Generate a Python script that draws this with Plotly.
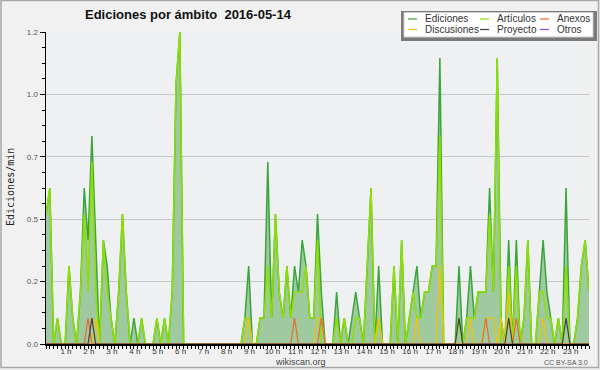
import plotly.graph_objects as go

# 10-minute bins from 00:00 to 23:40 (one row = one hour), values in edits/min
bin_minutes = [10 * i for i in range(143)]

ediciones = [
    0.5, 0.6, 0, 0.1, 0, 0,
    0.3, 0.1, 0, 0.2, 0.6, 0.4,
    0.8, 0.4, 0, 0.4, 0.3, 0.1,
    0, 0.2, 0.5, 0.2, 0, 0.1,
    0, 0.1, 0, 0, 0, 0.1,
    0, 0.1, 0, 0.2, 1.0, 1.2,
    0, 0, 0, 0, 0, 0,
    0, 0, 0, 0, 0, 0,
    0, 0, 0, 0, 0.1, 0.3,
    0, 0, 0.1, 0.1, 0.7, 0.1,
    0.5, 0.2, 0.1, 0.3, 0.1, 0.3,
    0.2, 0.4, 0.3, 0.1, 0.1, 0.5,
    0.2, 0, 0, 0, 0.2, 0,
    0.1, 0, 0.1, 0.2, 0.1, 0,
    0.3, 0.6, 0, 0.3, 0, 0,
    0, 0.3, 0, 0.4, 0, 0.1,
    0.2, 0.3, 0.1, 0.2, 0.2, 0.3,
    0.3, 1.1, 0, 0, 0, 0,
    0.3, 0, 0.1, 0.3, 0.1, 0.2,
    0.2, 0.2, 0.6, 0.2, 1.1, 0.1,
    0, 0.4, 0, 0.4, 0, 0.1,
    0.4, 0, 0, 0.2, 0.4, 0.2,
    0.1, 0, 0.1, 0, 0.6, 0,
    0, 0.1, 0.3, 0.4, 0.2,
]

articulos = [
    0.5, 0.6, 0, 0.1, 0, 0,
    0.3, 0.1, 0, 0.2, 0.5, 0.2,
    0.7, 0.2, 0, 0.4, 0.2, 0.1,
    0, 0.2, 0.5, 0.2, 0, 0,
    0, 0.1, 0, 0, 0, 0.1,
    0, 0.1, 0, 0.2, 1.0, 1.2,
    0, 0, 0, 0, 0, 0,
    0, 0, 0, 0, 0, 0,
    0, 0, 0, 0, 0.1, 0.1,
    0, 0, 0.1, 0.1, 0.3, 0.1,
    0.5, 0.2, 0.1, 0.3, 0.1, 0.2,
    0.2, 0.2, 0.3, 0.1, 0.1, 0.4,
    0, 0, 0, 0, 0.1, 0,
    0.1, 0, 0, 0.1, 0.1, 0,
    0.3, 0.6, 0, 0.1, 0, 0,
    0, 0.3, 0, 0.4, 0, 0.1,
    0.2, 0.1, 0.1, 0.2, 0.2, 0.3,
    0.3, 0.8, 0, 0, 0, 0,
    0.1, 0, 0.1, 0.1, 0.1, 0.2,
    0.2, 0.2, 0.5, 0.2, 1.1, 0,
    0, 0.3, 0, 0.3, 0, 0.1,
    0.4, 0, 0, 0.2, 0.2, 0.1,
    0.1, 0, 0.1, 0, 0.3, 0,
    0, 0.1, 0.3, 0.4, 0.2,
]

anexos = [
    0, 0, 0, 0, 0, 0,
    0, 0, 0, 0, 0, 0.1,
    0, 0, 0, 0, 0, 0,
    0, 0, 0, 0, 0, 0,
    0, 0, 0, 0, 0, 0,
    0, 0, 0, 0, 0, 0,
    0, 0, 0, 0, 0, 0,
    0, 0, 0, 0, 0, 0,
    0, 0, 0, 0, 0, 0,
    0, 0, 0, 0, 0, 0,
    0, 0, 0, 0, 0, 0.1,
    0, 0, 0, 0, 0, 0,
    0.1, 0, 0, 0, 0, 0,
    0, 0, 0, 0, 0, 0,
    0, 0, 0, 0, 0, 0,
    0, 0, 0, 0, 0, 0,
    0, 0, 0, 0, 0, 0,
    0, 0, 0, 0, 0, 0,
    0, 0, 0, 0, 0, 0,
    0, 0.1, 0, 0, 0, 0,
    0, 0, 0, 0.1, 0, 0,
    0, 0, 0, 0, 0, 0,
    0, 0, 0, 0, 0, 0,
    0, 0, 0, 0, 0,
]

discusiones = [
    0, 0, 0, 0, 0, 0,
    0, 0, 0, 0, 0, 0,
    0, 0.1, 0, 0, 0, 0,
    0, 0, 0, 0, 0, 0,
    0, 0, 0, 0, 0, 0,
    0, 0, 0, 0, 0, 0,
    0, 0, 0, 0, 0, 0,
    0, 0, 0, 0, 0, 0,
    0, 0, 0, 0, 0, 0.1,
    0, 0, 0, 0, 0, 0,
    0, 0, 0, 0, 0, 0,
    0, 0, 0, 0, 0, 0.1,
    0.1, 0, 0, 0, 0, 0,
    0, 0, 0, 0, 0, 0,
    0, 0, 0, 0.1, 0, 0,
    0, 0, 0, 0, 0, 0,
    0, 0.1, 0, 0, 0, 0,
    0, 0.3, 0, 0, 0, 0,
    0, 0, 0, 0.1, 0, 0,
    0, 0.1, 0.1, 0.1, 0, 0.1,
    0, 0.2, 0, 0, 0, 0,
    0, 0, 0, 0, 0.1, 0,
    0, 0, 0, 0, 0, 0,
    0, 0, 0, 0, 0,
]

proyecto = [
    0, 0, 0, 0, 0, 0,
    0, 0, 0, 0, 0, 0,
    0.1, 0, 0, 0, 0, 0,
    0, 0, 0, 0, 0, 0,
    0, 0, 0, 0, 0, 0,
    0, 0, 0, 0, 0, 0,
    0, 0, 0, 0, 0, 0,
    0, 0, 0, 0, 0, 0,
    0, 0, 0, 0, 0, 0,
    0, 0, 0, 0, 0, 0,
    0, 0, 0, 0, 0, 0,
    0, 0, 0, 0, 0, 0,
    0, 0, 0, 0, 0, 0,
    0, 0, 0, 0, 0, 0,
    0, 0, 0, 0, 0, 0,
    0, 0, 0, 0, 0, 0,
    0, 0, 0, 0, 0, 0,
    0, 0, 0, 0, 0, 0,
    0.1, 0, 0, 0, 0, 0,
    0, 0, 0, 0, 0, 0,
    0, 0.1, 0, 0, 0, 0,
    0, 0, 0, 0, 0, 0,
    0, 0, 0, 0, 0.1, 0,
    0, 0, 0, 0, 0,
]

otros = [0] * 143

hour_ticks = [60, 120, 180, 240, 300, 360, 420, 480, 540, 600, 660, 720,
              780, 840, 900, 960, 1020, 1080, 1140, 1200, 1260, 1320, 1380]
hour_labels = ["1 h", "2 h", "3 h", "4 h", "5 h", "6 h", "7 h", "8 h", "9 h",
               "10 h", "11 h", "12 h", "13 h", "14 h", "15 h", "16 h", "17 h",
               "18 h", "19 h", "20 h", "21 h", "22 h", "23 h"]
y_ticks = [0, 0.24, 0.48, 0.72, 0.96, 1.2]
y_labels = ["0.0", "0.2", "0.5", "0.7", "1.0", "1.2"]

C_ED = "#3aa63a"
C_FILL = "#9fc99f"
C_ART = "#8ee000"
C_ANE = "#f06a28"
C_DIS = "#f5c400"
C_PRO = "#404040"
C_OTR = "#9a40f0"

W, H = 600, 370
ML, MR, MT, MB = 46, 11, 32, 26
PW, PH = W - ML - MR, H - MT - MB


def px(x):
    return (x - ML) / PW


def py(y):
    return (H - MB - y) / PH


fig = go.Figure()
fig.add_trace(go.Scatter(x=bin_minutes, y=ediciones, mode="lines", fill="tozeroy",
                         fillcolor=C_FILL, line=dict(color=C_ED, width=1.5),
                         name="Ediciones", showlegend=False))
fig.add_trace(go.Scatter(x=bin_minutes, y=otros, mode="lines",
                         line=dict(color=C_OTR, width=1.2), name="Otros", showlegend=False))
fig.add_trace(go.Scatter(x=bin_minutes, y=articulos, mode="lines",
                         line=dict(color=C_ART, width=1.5), name="Artículos", showlegend=False))
fig.add_trace(go.Scatter(x=bin_minutes, y=discusiones, mode="lines",
                         line=dict(color=C_DIS, width=1.2), name="Discusiones", showlegend=False))
fig.add_trace(go.Scatter(x=bin_minutes, y=anexos, mode="lines",
                         line=dict(color=C_ANE, width=1.2), name="Anexos", showlegend=False))
fig.add_trace(go.Scatter(x=bin_minutes, y=proyecto, mode="lines",
                         line=dict(color=C_PRO, width=1.2), name="Proyecto", showlegend=False))

shapes = []
annotations = []

# page frame
shapes.append(dict(type="rect", xref="paper", yref="paper",
                   x0=px(1), x1=px(598.5), y0=py(367.5), y1=py(0.5),
                   line=dict(color="#a8a8a8", width=1.5), fillcolor="rgba(0,0,0,0)", layer="below"))

# legend box with shadow
shapes.append(dict(type="rect", xref="paper", yref="paper",
                   x0=px(401), x1=px(597), y0=py(41), y1=py(11),
                   line=dict(width=0), fillcolor="#7a7a7a", layer="above"))
shapes.append(dict(type="rect", xref="paper", yref="paper",
                   x0=px(404), x1=px(593), y0=py(37), y1=py(12.5),
                   line=dict(color="#cfcfcf", width=1), fillcolor="#ffffff", layer="above"))

legend_items = [
    ("Ediciones", C_ED, 408, 19), ("Artículos", C_ART, 480, 19), ("Anexos", C_ANE, 540, 19),
    ("Discusiones", C_DIS, 408, 29.5), ("Proyecto", C_PRO, 480, 29.5), ("Otros", C_OTR, 540, 29.5),
]
for name, col, lx, ly in legend_items:
    shapes.append(dict(type="line", xref="paper", yref="paper",
                       x0=px(lx), x1=px(lx + 9), y0=py(ly), y1=py(ly),
                       line=dict(color=col, width=1.2), layer="above"))
    annotations.append(dict(text=name, xref="paper", yref="paper", x=px(lx + 15), y=py(ly),
                            xanchor="left", yanchor="middle", showarrow=False,
                            font=dict(family="Liberation Sans", size=10, color="#333333")))

annotations.append(dict(text="Ediciones/min", xref="paper", yref="paper", x=px(10), y=py(187),
                        textangle=-90, xanchor="center", yanchor="middle", showarrow=False,
                        font=dict(family="DejaVu Sans Mono", size=10, color="#222222")))
annotations.append(dict(text="wikiscan.org", xref="paper", yref="paper", x=px(300), y=py(362),
                        xanchor="center", yanchor="middle", showarrow=False,
                        font=dict(family="Liberation Sans", size=9, color="#444444")))
annotations.append(dict(text="CC BY-SA 3.0", xref="paper", yref="paper", x=px(590), y=py(362),
                        xanchor="right", yanchor="middle", showarrow=False,
                        font=dict(family="Liberation Sans", size=7, color="#555555")))

fig.update_layout(
    width=W, height=H,
    margin=dict(l=ML, r=MR, t=MT, b=MB, pad=0),
    paper_bgcolor="#f1f1f1",
    plot_bgcolor="#eef0f2",
    title=dict(text="Ediciones por ámbito\u00a0 2016-05-14", xref="container", yref="container",
               x=85 / W, xanchor="left", y=1 - 14 / H, yanchor="middle",
               font=dict(family="Liberation Sans", size=13, color="#111111", weight="bold")),
    showlegend=False,
    shapes=shapes,
    annotations=annotations,
    xaxis=dict(range=[0, 1420], showgrid=False, zeroline=False, showline=True,
               linecolor="#000000", linewidth=1.5, ticks="outside", ticklen=3, tickwidth=1,
               tickcolor="#000000", tickvals=hour_ticks, ticktext=hour_labels,
               tickfont=dict(family="Liberation Sans", size=8, color="#333333"),
               ticklabelshift=-3, ticklabelstandoff=-4,
               minor=dict(dtick=10, tick0=0, ticks="outside", ticklen=3, tickcolor="#000000",
                          showgrid=False),
               layer="above traces", fixedrange=True),
    yaxis=dict(range=[0, 1.2], showgrid=True, gridcolor="#c8c8c8", gridwidth=1, zeroline=False,
               showline=True, linecolor="#000000", linewidth=1.5, ticks="outside", ticklen=5,
               tickcolor="#000000", tickvals=y_ticks, ticktext=y_labels,
               tickfont=dict(family="Liberation Sans", size=8, color="#555555"),
               minor=dict(dtick=0.06, tick0=0, ticks="outside", ticklen=3, tickcolor="#000000",
                          showgrid=False),
               layer="above traces", fixedrange=True),
)

fig.write_html("out.html", config={"displayModeBar": False, "staticPlot": True},
               post_script="document.body.style.margin='0';document.body.style.overflow='hidden';")
